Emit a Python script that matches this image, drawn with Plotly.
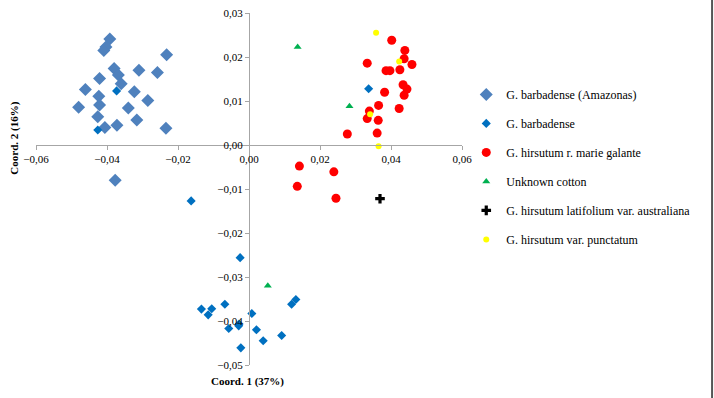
import plotly.graph_objects as go

# ---- data ----
amazonas_x = [-0.0392, -0.0403, -0.0409, -0.0232, -0.0380, -0.0310, -0.0258, -0.0368,
              -0.0421, -0.0360, -0.0461, -0.0323, -0.0423, -0.0285, -0.0480, -0.0421,
              -0.0340, -0.0426, -0.0316, -0.0372, -0.0406, -0.0234, -0.0377]
amazonas_y = [0.0241, 0.0223, 0.0215, 0.0205, 0.0174, 0.0170, 0.0165, 0.0159,
              0.0151, 0.0139, 0.0126, 0.0121, 0.0111, 0.0101, 0.0086, 0.0091,
              0.0084, 0.0064, 0.0057, 0.0045, 0.0040, 0.0038, -0.0080]

barb_x = [-0.0373, -0.0426, 0.0337, -0.0163, -0.0025, -0.0134, -0.0105, -0.0115,
          -0.0068, -0.0028, -0.0029, -0.0057, 0.0008, 0.0021, 0.0040, 0.0092,
          0.0120, 0.0132, -0.0023]
barb_y = [0.0123, 0.0034, 0.0128, -0.0127, -0.0256, -0.0373, -0.0372, -0.0386,
          -0.0362, -0.0407, -0.0411, -0.0417, -0.0383, -0.0420, -0.0445, -0.0433,
          -0.0362, -0.0351, -0.0461]

marie_x = [0.0402, 0.0439, 0.0437, 0.0459, 0.0333, 0.0386, 0.0397, 0.0425,
           0.0434, 0.0445, 0.0382, 0.0437, 0.0365, 0.0423, 0.0339, 0.0333,
           0.0364, 0.0277, 0.0361, 0.0142, 0.0239, 0.0136, 0.0245]
marie_y = [0.0238, 0.0215, 0.0196, 0.0183, 0.0186, 0.0169, 0.0169, 0.0171,
           0.0137, 0.0127, 0.0120, 0.0113, 0.0090, 0.0083, 0.0077, 0.0060,
           0.0056, 0.0025, 0.0027, -0.0048, -0.0061, -0.0094, -0.0121]

unknown_x = [0.0137, 0.0283, 0.0053]
unknown_y = [0.0223, 0.0088, -0.0320]

austral_x = [0.0369]
austral_y = [-0.0122]

punct_x = [0.0358, 0.0423, 0.0341, 0.0365]
punct_y = [0.0255, 0.0190, 0.0070, -0.0003]

x_ticks = [-0.06, -0.04, -0.02, 0.0, 0.02, 0.04, 0.06]
y_ticks = [0.03, 0.02, 0.01, 0.0, -0.01, -0.02, -0.03, -0.04, -0.05]

FONT = "Liberation Serif"

fig = go.Figure()
fig.add_trace(go.Scatter(x=amazonas_x, y=amazonas_y, mode="markers",
                         name="G. barbadense (Amazonas)", legendgroup="a",
                         marker=dict(symbol="diamond", size=10, color="#4F81BD")))
fig.add_trace(go.Scatter(x=barb_x, y=barb_y, mode="markers",
                         name="G. barbadense", legendgroup="b",
                         marker=dict(symbol="diamond", size=7, color="#0070C0")))
fig.add_trace(go.Scatter(x=marie_x, y=marie_y, mode="markers",
                         name="G. hirsutum r. marie galante", legendgroup="c",
                         marker=dict(symbol="circle", size=9, color="#FF0000")))
fig.add_trace(go.Scatter(x=unknown_x, y=unknown_y, mode="markers",
                         name="Unknown cotton", legendgroup="d",
                         marker=dict(symbol="triangle-up", size=7, color="#00B050")))
fig.add_trace(go.Scatter(x=austral_x, y=austral_y, mode="markers",
                         name="G. hirsutum latifolium var. australiana", legendgroup="e",
                         marker=dict(symbol="cross", size=8, color="#000000")))
fig.add_trace(go.Scatter(x=punct_x, y=punct_y, mode="markers",
                         name="G. hirsutum var. punctatum", legendgroup="f",
                         marker=dict(symbol="circle", size=6, color="#FFFF00")))

fig.update_layout(
    width=714, height=398,
    margin=dict(l=36, r=252, t=13, b=33, autoexpand=False),
    paper_bgcolor="white", plot_bgcolor="white",
    separators=",.",
    font=dict(family=FONT, size=11, color="#000000"),
    showlegend=True,
    legend=dict(x=1.01, y=0.81, xanchor="left", yanchor="top",
                font=dict(family=FONT, size=12, color="#000000"),
                tracegroupgap=10, itemwidth=30, bgcolor="rgba(0,0,0,0)"),
    xaxis=dict(range=[-0.06, 0.06], domain=[0, 1], anchor="free", position=0.625,
               tickvals=x_ticks, tickformat=".2f", showgrid=False, zeroline=False,
               showline=True, linecolor="#A6A6A6", linewidth=1, automargin=False,
               ticks="outside", ticklen=4, tickcolor="#A6A6A6",
               tickfont=dict(family=FONT, size=11)),
    yaxis=dict(range=[-0.05, 0.03], domain=[0, 1], anchor="free", position=0.5,
               tickvals=y_ticks, tickformat=".2f", showgrid=False, zeroline=False,
               showline=True, linecolor="#A6A6A6", linewidth=1, automargin=False,
               ticks="outside", ticklen=4, tickcolor="#A6A6A6",
               tickfont=dict(family=FONT, size=11)),
    annotations=[
        dict(text="<b>Coord. 1 (37%)</b>", xref="paper", yref="paper",
             x=0.497, y=-0.048, xanchor="center", yanchor="middle", showarrow=False,
             font=dict(family=FONT, size=11)),
        dict(text="<b>Coord. 2 (16%)</b>", xref="paper", yref="paper",
             x=-0.05, y=0.645, xanchor="center", yanchor="middle", showarrow=False,
             textangle=-90, font=dict(family=FONT, size=11)),
    ],
    shapes=[
        dict(type="line", xref="paper", yref="paper",
             x0=1.587, x1=1.587, y0=-0.094, y1=1.04,
             line=dict(color="#555555", width=2)),
    ],
)

fig.write_html("out.html")
